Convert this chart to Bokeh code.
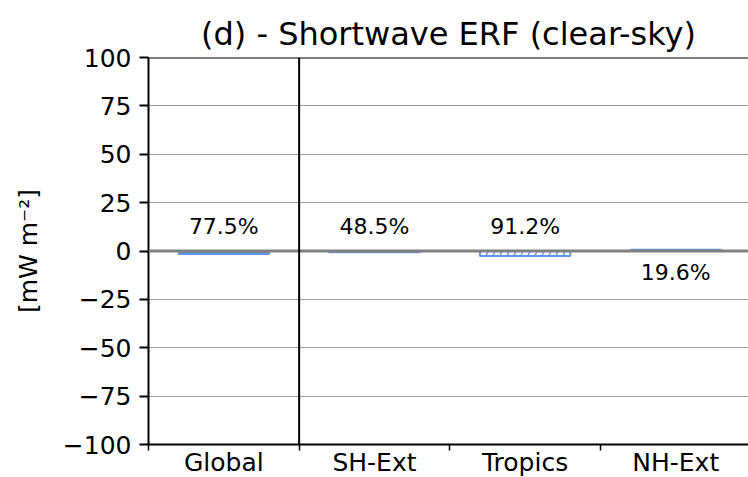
from bokeh.plotting import figure
from bokeh.models import FixedTicker, Span, ColumnDataSource
from bokeh.core.properties import value
from bokeh.embed import file_html
from bokeh.resources import INLINE

categories = ["Global", "SH-Ext", "Tropics", "NH-Ext"]
erf_values = [-1.5, -0.7, -2.6, 0.6]
significant = [True, True, False, True]
percent_labels = ["77.5%", "48.5%", "91.2%", "19.6%"]
y_ticks = [-100, -75, -50, -25, 0, 25, 50, 75, 100]

FONT = "DejaVu Sans"
BLUE = "cornflowerblue"

xs = list(range(len(categories)))

p = figure(
    output_backend="svg", toolbar_location=None,
    frame_width=600, frame_height=387,
    x_range=(-0.5, 3.483), y_range=(-100, 100),
    min_border_left=148, min_border_top=57, min_border_right=0, min_border_bottom=0,
    outline_line_color=None,
)
p.title.text = "(d) - Shortwave ERF (clear-sky)"
p.title.align = "center"
p.title.text_font = FONT
p.title.text_font_size = "32px"
p.title.text_font_style = "normal"
p.title.text_color = "black"
p.title.standoff = 9

# bars
solid = ColumnDataSource(dict(x=[x for x, s in zip(xs, significant) if s],
                              top=[v for v, s in zip(erf_values, significant) if s]))
hatched = ColumnDataSource(dict(x=[x for x, s in zip(xs, significant) if not s],
                                top=[v for v, s in zip(erf_values, significant) if not s]))
p.vbar(x="x", top="top", bottom=0, width=0.6, source=solid,
       fill_color=BLUE, line_color=BLUE, line_width=2)
p.vbar(x="x", top="top", bottom=0, width=0.6, source=hatched,
       fill_color=None, line_color=BLUE, line_width=2,
       hatch_pattern="/", hatch_color=BLUE, hatch_scale=14, hatch_weight=1.5)

# percentage labels
label_y = [12.6 if v < 0 else -11 for v in erf_values]
p.text(x=xs, y=label_y, text=percent_labels, text_align="center",
       text_baseline="middle", text_font=value(FONT), text_font_size="22px",
       text_color="black")

# grid
p.xgrid.visible = False
p.ygrid.ticker = FixedTicker(ticks=y_ticks)
p.ygrid.grid_line_color = "#a0a0a0"
p.ygrid.grid_line_width = 1

p.add_layout(Span(location=0, dimension="width", line_color="#808080", line_width=3))
p.add_layout(Span(location=0.5, dimension="height", line_color="black", line_width=2))
p.add_layout(Span(location=100, dimension="width", line_color="black", line_width=2))

# y axis
ya = p.yaxis[0]
ya.ticker = FixedTicker(ticks=y_ticks)
ya.major_label_overrides = {t: (str(t).replace("-", "\u2212")) for t in y_ticks}
ya.major_label_text_font = FONT
ya.major_label_text_font_size = "25px"
ya.major_label_text_color = "black"
ya.major_tick_out = 9
ya.major_tick_in = 0
ya.major_tick_line_width = 2
ya.major_tick_line_color = "black"
ya.minor_tick_line_color = None
ya.axis_line_width = 2
ya.axis_line_color = "black"
ya.major_label_standoff = 8
ya.axis_label = "[mW m\u207b\u00b2]"
ya.axis_label_text_font = FONT
ya.axis_label_text_font_size = "25px"
ya.axis_label_text_font_style = "normal"
ya.axis_label_text_color = "black"
ya.axis_label_standoff = 17

# x axis
xa = p.xaxis[0]
xa.ticker = FixedTicker(ticks=xs, minor_ticks=[-0.5, 0.5, 1.5, 2.5, 3.5])
xa.major_label_overrides = {i: c for i, c in enumerate(categories)}
xa.major_label_text_font = FONT
xa.major_label_text_font_size = "25px"
xa.major_label_text_color = "black"
xa.major_tick_line_color = None
xa.major_tick_out = 0
xa.major_tick_in = 0
xa.minor_tick_out = 6
xa.minor_tick_in = 0
xa.minor_tick_line_width = 1.5
xa.minor_tick_line_color = "black"
xa.major_label_standoff = -3
xa.axis_line_width = 2
xa.axis_line_color = "black"

open("out.html", "w").write(file_html(p, INLINE))
